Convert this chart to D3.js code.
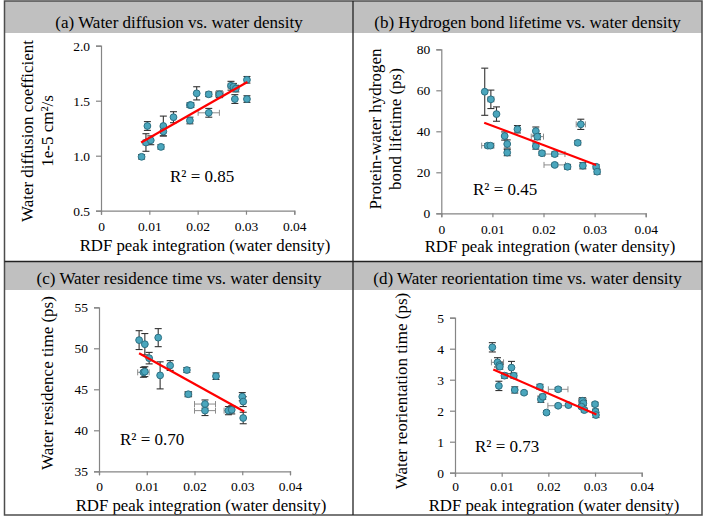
<!DOCTYPE html>
<html><head><meta charset="utf-8">
<script src="https://cdn.jsdelivr.net/npm/d3@7/dist/d3.min.js"></script>
<style>body{margin:0;background:#fff}svg{display:block}text{font-family:"Liberation Serif","Times New Roman",serif;fill:#000}</style>
</head><body><svg id="c" width="706" height="525"></svg>
<script>
// ---- data ----
const xTicks = [0, 0.01, 0.02, 0.03, 0.04];
const xTickLabels = ["0", "0.01", "0.02", "0.03", "0.04"];

// (a) water diffusion coefficient
const aX    = [0.0084,0.0096,0.0093,0.0103,0.0124,0.0129,0.0129,0.0150,0.0184,0.0186,0.0184,0.0198,0.0223,0.0223,0.0245,0.0269,0.0274,0.0279,0.0277,0.0302,0.0302];
const aY    = [0.99,1.27,1.12,1.14,1.08,1.27,1.22,1.35,1.46,1.46,1.32,1.567,1.558,1.39,1.558,1.636,1.627,1.61,1.515,1.69,1.515];
const aXErr = [0.0003,0.0003,0.0006,0.0003,0.0003,0.0003,0.0003,0.0003,0.0004,0.0005,0.0003,0.0003,0.0005,0.0022,0.0008,0.0006,0.0004,0.0004,0.0003,0.0003,0.0003];
const aYErr = [0.02,0.04,0.08,0.04,0.02,0.09,0.04,0.05,0.02,0.02,0.03,0.06,0.02,0.04,0.03,0.04,0.03,0.03,0.04,0.03,0.03];
const aTrend = [0.0083,1.12,0.0303,1.67];
const aYTicks = [0.5,1.0,1.5,2.0];

// (b) hydrogen bond lifetime
const bX    = [0.0085,0.0097,0.0108,0.0091,0.0096,0.0124,0.0129,0.0129,0.0149,0.0185,0.0188,0.0185,0.0197,0.0222,0.0222,0.0247,0.0267,0.0273,0.0277,0.0303,0.0305];
const bY    = [59.3,55.6,48.4,33.0,33.0,37.7,33.8,29.6,41.0,40.1,37.4,32.8,29.3,28.9,23.6,22.7,34.4,43.4,23.2,22.7,20.3];
const bXErr = [0.0003,0.0006,0.0003,0.0012,0.0004,0.0003,0.0003,0.0003,0.0003,0.0003,0.0012,0.0003,0.0003,0.0020,0.0021,0.0006,0.0003,0.0009,0.0004,0.0003,0.0003];
const bYErr = [11.5,4.5,3.5,1.0,1.0,2.0,2.0,1.5,1.8,2.0,1.5,1.5,1.0,1.0,0.8,1.0,1.0,2.5,1.5,1.0,1.2];
const bTrend = [0.0084,44.2,0.0303,23.6];
const bYTicks = [0,20,40,60,80];

// (c) water residence time
const cX    = [0.0084,0.0096,0.0124,0.0105,0.0093,0.0096,0.0128,0.0149,0.0184,0.0187,0.0245,0.0222,0.0222,0.0271,0.0278,0.0300,0.0302,0.0302];
const cY    = [51.0,50.5,51.3,48.8,47.07,47.15,46.7,47.9,47.35,44.4,46.6,43.2,42.4,42.4,42.5,44.1,43.5,41.5];
const cXErr = [0.0003,0.0003,0.0003,0.0003,0.0012,0.0004,0.0003,0.0003,0.0004,0.0007,0.0005,0.0022,0.0022,0.0009,0.0005,0.0003,0.0003,0.0003];
const cYErr = [1.15,1.3,1.1,0.7,0.6,0.6,1.65,0.6,0.3,0.3,0.4,0.5,0.6,0.5,0.5,0.5,0.6,0.7];
const cTrend = [0.0084,49.4,0.0304,42.3];
const cYTicks = [35,40,45,50,55];

// (d) water reorientation time
const dX    = [0.0080,0.0091,0.0095,0.0096,0.0094,0.0106,0.0121,0.0126,0.0128,0.0148,0.0182,0.0184,0.0188,0.0196,0.0221,0.0221,0.0243,0.0273,0.0275,0.0271,0.0277,0.0300,0.0301,0.0302];
const dY    = [4.045,3.56,3.47,3.42,2.80,3.13,3.39,3.13,2.67,2.58,2.77,2.37,2.45,1.94,2.69,2.16,2.18,2.32,2.24,2.13,2.02,2.21,1.97,1.86];
const dXErr = [0.0003,0.0013,0.0005,0.0003,0.0003,0.0003,0.0003,0.0003,0.0003,0.0003,0.0003,0.0003,0.0004,0.0003,0.0021,0.0022,0.0004,0.0008,0.0005,0.0003,0.0003,0.0003,0.0003,0.0003];
const dYErr = [0.15,0.15,0.1,0.08,0.15,0.08,0.2,0.08,0.1,0.05,0.08,0.1,0.08,0.06,0.06,0.05,0.05,0.1,0.08,0.06,0.06,0.06,0.08,0.08];
const dTrend = [0.0082,3.33,0.0303,1.88];
const dYTicks = [0,1,2,3,4,5];

const titles = ["(a) Water diffusion vs. water density","(b) Hydrogen bond lifetime vs. water density","(c) Water residence time vs. water density","(d) Water reorientation time vs. water density"];
const yLabels = [["Water diffusion coefficient","1e-5 cm\u00b2/s"],["Protein-water hydrogen","bond lifetime (ps)"],["Water residence time (ps)"],["Water reorientation time (ps)"]];
const r2Labels = ["R\u00b2 = 0.85","R\u00b2 = 0.45","R\u00b2 = 0.70","R\u00b2 = 0.73"];
const xLabel = "RDF peak integration (water density)";

// ---- layout ----
const svg = d3.select("#c");
const panels = [
  {x:aX,y:aY,xe:aXErr,ye:aYErr,tr:aTrend,yt:aYTicks,fmt:d3.format(".1f"),ydom:[0.5,2.0],
   px:[101,294.3],py:[210.7,45.7],band:[4.5,353,1,33],tx:179,ty:27.5,ylx:[27,47],yly:131,r2:[170,182],xlx:205,xly:251,tp:7},
  {x:bX,y:bY,xe:bXErr,ye:bYErr,tr:bTrend,yt:bYTicks,fmt:d3.format("d"),ydom:[0,80],
   px:[441.3,645.7],py:[213.3,49.3],band:[353,702,1,33],tx:527.5,ty:27.5,ylx:[375,395],yly:129,r2:[473,195],xlx:550,xly:251.5,tp:7},
  {x:cX,y:cY,xe:cXErr,ye:cYErr,tr:cTrend,yt:cYTicks,fmt:d3.format("d"),ydom:[35,55],
   px:[99,290],py:[471.3,307.3],band:[4.5,353,262,290],tx:179,ty:284,ylx:[47],yly:383,r2:[120,445],xlx:201,xly:510.5,tp:6},
  {x:dX,y:dY,xe:dXErr,ye:dYErr,tr:dTrend,yt:dYTicks,fmt:d3.format("d"),ydom:[0,5],
   px:[455,641.7],py:[472.7,317.7],band:[353,702,262,290],tx:527.5,ty:284,ylx:[401],yly:391,r2:[475,452],xlx:554,xly:510.5,tp:5}
];

const axisCol = "#858585";
panels.forEach((p,i)=>{
  const g = svg.append("g");
  g.append("rect").attr("x",p.band[0]).attr("y",p.band[2]).attr("width",p.band[1]-p.band[0]).attr("height",p.band[3]-p.band[2]).attr("fill","#c0c0c0");
  g.append("text").attr("x",p.tx).attr("y",p.ty).attr("text-anchor","middle").attr("font-size",17).text(titles[i]);

  const xs = d3.scaleLinear().domain([0,0.04]).range(p.px);
  const ys = d3.scaleLinear().domain(p.ydom).range(p.py);

  const xa = g.append("g").attr("transform",`translate(0,${p.py[0]})`)
    .call(d3.axisBottom(xs).tickValues(xTicks).tickFormat((d,k)=>xTickLabels[k]).tickSizeOuter(0).tickSize(4).tickPadding(p.tp));
  const ya = g.append("g").attr("transform",`translate(${p.px[0]},0)`)
    .call(d3.axisLeft(ys).tickValues(p.yt).tickFormat(p.fmt).tickSizeOuter(0).tickSize(5).tickPadding(6));
  [xa,ya].forEach(a=>{
    a.attr("font-family",null).attr("font-size",null);
    a.selectAll("path,line").attr("stroke",axisCol).attr("stroke-width",1.2);
    a.selectAll("text").attr("font-size",13.5).attr("fill","#000");
  });

  // error bars
  const n = p.x.length;
  const idx = d3.range(n);
  const eb = g.append("g");
  idx.forEach(k=>{
    const cx = xs(p.x[k]), cy = ys(p.y[k]);
    const x0 = xs(p.x[k]-p.xe[k]), x1 = xs(p.x[k]+p.xe[k]);
    eb.append("line").attr("x1",x0).attr("x2",x1).attr("y1",cy).attr("y2",cy).attr("stroke","#8c8c8c").attr("stroke-width",1);
    eb.append("line").attr("x1",x0).attr("x2",x0).attr("y1",cy-3).attr("y2",cy+3).attr("stroke","#8c8c8c").attr("stroke-width",1);
    eb.append("line").attr("x1",x1).attr("x2",x1).attr("y1",cy-3).attr("y2",cy+3).attr("stroke","#8c8c8c").attr("stroke-width",1);
    const y0 = ys(p.y[k]-p.ye[k]), y1 = ys(p.y[k]+p.ye[k]);
    eb.append("line").attr("x1",cx).attr("x2",cx).attr("y1",y0).attr("y2",y1).attr("stroke","#333").attr("stroke-width",1.1);
    eb.append("line").attr("x1",cx-3.5).attr("x2",cx+3.5).attr("y1",y0).attr("y2",y0).attr("stroke","#333").attr("stroke-width",1.1);
    eb.append("line").attr("x1",cx-3.5).attr("x2",cx+3.5).attr("y1",y1).attr("y2",y1).attr("stroke","#333").attr("stroke-width",1.1);
  });
  g.append("g").selectAll("circle").data(idx).join("circle")
    .attr("cx",k=>xs(p.x[k])).attr("cy",k=>ys(p.y[k])).attr("r",3.4)
    .attr("fill","#4aa6bd").attr("stroke","#2d7184").attr("stroke-width",1);

  g.append("line").attr("x1",xs(p.tr[0])).attr("y1",ys(p.tr[1])).attr("x2",xs(p.tr[2])).attr("y2",ys(p.tr[3]))
    .attr("stroke","#ff0000").attr("stroke-width",2.2);

  g.append("text").attr("x",p.r2[0]).attr("y",p.r2[1]).attr("font-size",17).text(r2Labels[i]);
  g.append("text").attr("x",p.xlx).attr("y",p.xly).attr("text-anchor","middle").attr("font-size",16.8).text(xLabel);
  yLabels[i].forEach((t,j)=>{
    g.append("text").attr("transform",`translate(${p.ylx[j]},${p.yly}) rotate(-90)`).attr("dy","0.35em")
      .attr("text-anchor","middle").attr("font-size",17).text(t);
  });
});

// frame
svg.append("rect").attr("x",4.5).attr("y",1).attr("width",697.5).attr("height",514).attr("fill","none").attr("stroke","#4d4d4d").attr("stroke-width",1.5);
svg.append("line").attr("x1",353).attr("x2",353).attr("y1",1).attr("y2",515).attr("stroke","#222").attr("stroke-width",1.3);
svg.append("line").attr("x1",4.5).attr("x2",702).attr("y1",261.5).attr("y2",261.5).attr("stroke","#222").attr("stroke-width",1.3);
</script></body></html>
